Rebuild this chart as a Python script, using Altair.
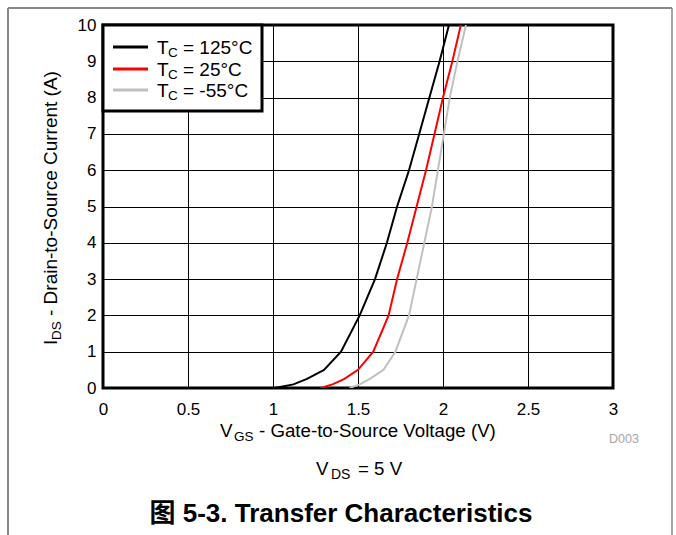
import altair as alt
import pandas as pd

# ---------------- data ----------------
series_names = ["TC = 125°C", "TC = 25°C", "TC = -55°C"]
series_colors = ["#000000", "#ff0000", "#c0c0c0"]

vgs_125 = [1.01, 1.12, 1.20, 1.30, 1.40, 1.51, 1.60, 1.67, 1.73, 1.80, 1.86, 1.92, 1.98, 2.035]
ids_125 = [0.0, 0.1, 0.25, 0.5, 1.0, 2.0, 3.0, 4.0, 5.0, 6.0, 7.0, 8.0, 9.0, 10.0]

vgs_25 = [1.28, 1.35, 1.42, 1.50, 1.59, 1.68, 1.73, 1.79, 1.845, 1.90, 1.95, 2.00, 2.055, 2.105]
ids_25 = [0.0, 0.1, 0.25, 0.5, 1.0, 2.0, 3.0, 4.0, 5.0, 6.0, 7.0, 8.0, 9.0, 10.0]

vgs_m55 = [1.45, 1.51, 1.57, 1.65, 1.72, 1.80, 1.845, 1.89, 1.935, 1.97, 2.005, 2.04, 2.085, 2.135]
ids_m55 = [0.0, 0.1, 0.25, 0.5, 1.0, 2.0, 3.0, 4.0, 5.0, 6.0, 7.0, 8.0, 9.0, 10.0]

x_ticks = [0, 0.5, 1, 1.5, 2, 2.5, 3]
y_ticks = [0, 1, 2, 3, 4, 5, 6, 7, 8, 9, 10]

rows = []
for name, vs, cs in [(series_names[0], vgs_125, ids_125),
                     (series_names[1], vgs_25, ids_25),
                     (series_names[2], vgs_m55, ids_m55)]:
    for i, (v, c) in enumerate(zip(vs, cs)):
        rows.append({"series": name, "Vgs": v, "Ids": c, "order": i})
df = pd.DataFrame(rows)

# ---------------- layout ----------------
FONT = "Liberation Sans, Arial, Helvetica, Noto Sans CJK SC, sans-serif"
OX, OY = 103, 25          # plot origin in page pixels
W, H = 510, 363           # plot area
PAGE_W, PAGE_H = 676, 535

one = alt.Data(values=[{"a": 1}])


def txt(s, x, y, size, align="left", baseline="alphabetic", angle=0, color="black", weight="normal"):
    kw = dict(text=s, align=align, baseline=baseline, fontSize=size, font=FONT,
              color=color, fontWeight=weight)
    if angle:
        kw["angle"] = angle
    return alt.Chart(one).mark_text(**kw).encode(x=alt.value(x - OX), y=alt.value(y - OY))


def hline(x1, x2, y, color, width):
    return alt.Chart(one).mark_rule(color=color, strokeWidth=width).encode(
        x=alt.value(x1 - OX), x2=alt.value(x2 - OX), y=alt.value(y - OY))


def vline(x, y1, y2, color, width):
    return alt.Chart(one).mark_rule(color=color, strokeWidth=width).encode(
        x=alt.value(x - OX), y=alt.value(y1 - OY), y2=alt.value(y2 - OY))


lines = alt.Chart(df).mark_line(strokeWidth=2, clip=True).encode(
    x=alt.X("Vgs:Q", scale=alt.Scale(domain=[0, 3], nice=False, zero=False),
            axis=alt.Axis(values=x_ticks, format="~g", title=None, grid=True,
                          gridColor="black", gridWidth=1, gridOpacity=1,
                          ticks=False, domain=False, labelFont=FONT, labelFontSize=17,
                          labelColor="black", labelBaseline="alphabetic",
                          labelPadding=26, labelFlush=False)),
    y=alt.Y("Ids:Q", scale=alt.Scale(domain=[0, 10], nice=False),
            axis=alt.Axis(values=y_ticks, format="d", title=None, grid=True,
                          gridColor="black", gridWidth=1, gridOpacity=1,
                          ticks=False, domain=False, labelFont=FONT, labelFontSize=17,
                          labelColor="black", labelPadding=7, labelFlush=False)),
    color=alt.Color("series:N", scale=alt.Scale(domain=series_names, range=series_colors),
                    legend=None),
    order="order:Q",
)

layers = [lines]

# legend box
layers.append(alt.Chart(one).mark_rect(fill="white", stroke="black", strokeWidth=3).encode(
    x=alt.value(103 - OX), x2=alt.value(262 - OX), y=alt.value(25 - OY), y2=alt.value(111 - OY)))
legend_rows_y = [47, 69, 90]
legend_rest = ["= 125°C", "= 25°C", "= -55°C"]
for yy, col, rest in zip(legend_rows_y, series_colors, legend_rest):
    layers.append(hline(113, 148, yy, col, 3))
    layers.append(txt("T", 157, yy + 7, 19))
    layers.append(txt("C", 168, yy + 10, 13.5))
    layers.append(txt(rest, 183, yy + 7, 19))

# x axis title
layers.append(txt("V", 220, 437, 18.7))
layers.append(txt("GS", 234, 441, 13.5))
layers.append(txt("- Gate-to-Source Voltage (V)", 259, 437, 18.7))

# y axis title (rotated)
ys = 345
layers.append(txt("I", 57, ys, 19, angle=270))
layers.append(txt("DS", 61, ys - 5, 13.5, angle=270))
layers.append(txt("- Drain-to-Source Current (A)", 57, ys - 29, 19, angle=270))

# D003
layers.append(txt("D003", 609, 443, 12.5, color="#a6a6a6"))

# VDS = 5 V
layers.append(txt("V", 316, 475, 18.7))
layers.append(txt("DS", 331, 479, 14))
layers.append(txt("= 5 V", 358, 475, 18.7))

# figure caption
layers.append(txt("图 5-3. Transfer Characteristics", 341, 522, 26, align="center", weight="bold"))

# page frame
layers.append(hline(8, 672, 8, "#888888", 2))
layers.append(vline(8, 8, 535, "#888888", 2))
layers.append(vline(672, 8, 535, "#888888", 1.5))

chart = alt.layer(*layers).properties(
    width=W, height=H,
    autosize=alt.AutoSizeParams(type="none"),
    padding={"left": OX, "top": OY, "right": PAGE_W - OX - W, "bottom": PAGE_H - OY - H},
    background="white",
).configure_view(stroke="black", strokeWidth=3)

chart.save("out.html", embed_options={"renderer": "svg", "actions": False})
